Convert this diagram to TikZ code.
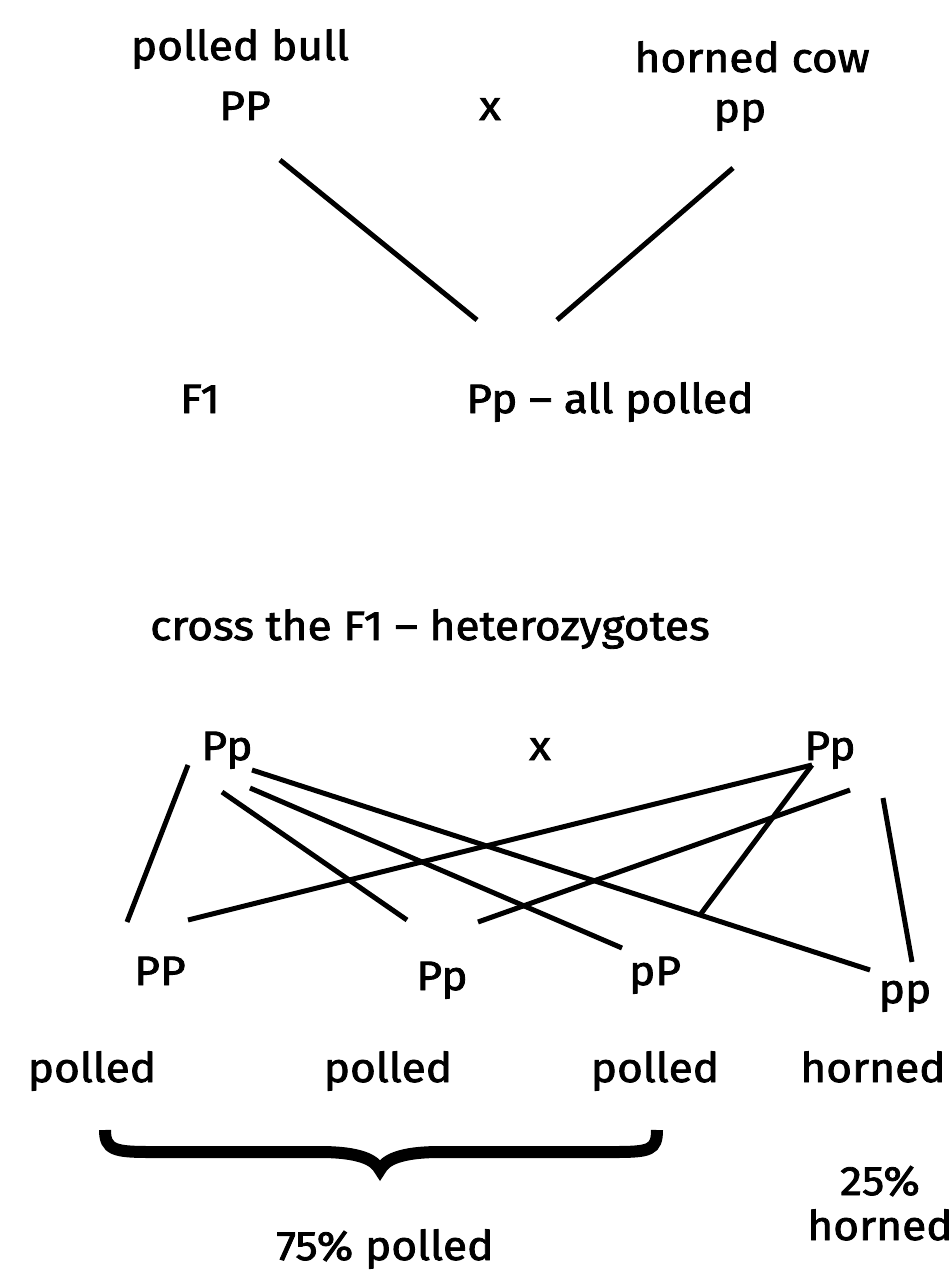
\documentclass[tikz,border=0pt]{standalone}
\usepackage{fontspec}
\setmainfont[FakeBold=2,FakeStretch=1.08]{Fira Sans}
\begin{document}
\begin{tikzpicture}[x=1pt,y=-1pt,
  lbl/.style={inner sep=0pt, anchor=base, font=\fontsize{41}{50}\selectfont},
  ln/.style={line width=5pt},
  brace/.style={line width=12pt}]
\useasboundingbox (0,0) rectangle (951,1288);
% top cross
\node[lbl] (pb) at (240,60) {polled bull};
\node[lbl] (hc) at (752,72) {horned cow};
\node[lbl] (PP1) at (245,120) {PP};
\node[lbl] (x1) at (490,120) {x};
\node[lbl] (pp1) at (740,122) {pp};
\coordinate (a1) at (280,160);
\coordinate (a2) at (477,320);
\coordinate (b1) at (733,168);
\coordinate (b2) at (557,320);
\draw[ln] (a1) -- (a2);
\draw[ln] (b1) -- (b2);
\node[lbl] (F1) at (200,413) {F1};
\node[lbl] (Pp1) at (610,413) {Pp – all polled};
% F1 cross
\node[lbl] (cr) at (430,640) {cross the F1 – heterozygotes};
\node[lbl] (PpL) at (227,760) {Pp};
\node[lbl] (x2) at (540,760) {x};
\node[lbl] (PpR) at (830,760) {Pp};
\coordinate (c1) at (188,765);  \coordinate (c2) at (127,922);
\coordinate (d1) at (222,792);  \coordinate (d2) at (407,920);
\coordinate (e1) at (250,788);  \coordinate (e2) at (622,948);
\coordinate (f1) at (252,770);  \coordinate (f2) at (870,970);
\coordinate (g1) at (812,765);  \coordinate (g2) at (188,920);
\coordinate (h1) at (850,790);  \coordinate (h2) at (478,922);
\coordinate (k2) at (700,915);
\coordinate (m1) at (883,798);  \coordinate (m2) at (912,962);
\draw[ln] (c1) -- (c2);
\draw[ln] (d1) -- (d2);
\draw[ln] (e1) -- (e2);
\draw[ln] (f1) -- (f2);
\draw[ln] (g1) -- (g2);
\draw[ln] (h1) -- (h2);
\draw[ln] (g1) -- (k2);
\draw[ln] (m1) -- (m2);
\node[lbl] (PP2) at (160,985) {PP};
\node[lbl] (Pp2) at (442,990) {Pp};
\node[lbl] (pP2) at (655,985) {pP};
\node[lbl] (pp2) at (905,1003) {pp};
\node[lbl] (ph1) at (92,1082) {polled};
\node[lbl] (ph2) at (388,1082) {polled};
\node[lbl] (ph3) at (655,1082) {polled};
\node[lbl] (ph4) at (873,1082) {horned};
% brace
\draw[brace] (105,1130) .. controls (105,1150) and (115,1152) .. (150,1152) -- (320,1152)
  .. controls (360,1152) and (375,1160) .. (380,1170)
  .. controls (385,1160) and (400,1152) .. (440,1152) -- (615,1152)
  .. controls (650,1152) and (657,1150) .. (657,1130);
\node[lbl] (p25) at (880,1195) {25\%};
\node[lbl] (h25) at (880,1240) {horned};
\node[lbl] (p75) at (385,1260) {75\% polled};
\end{tikzpicture}
\end{document}
